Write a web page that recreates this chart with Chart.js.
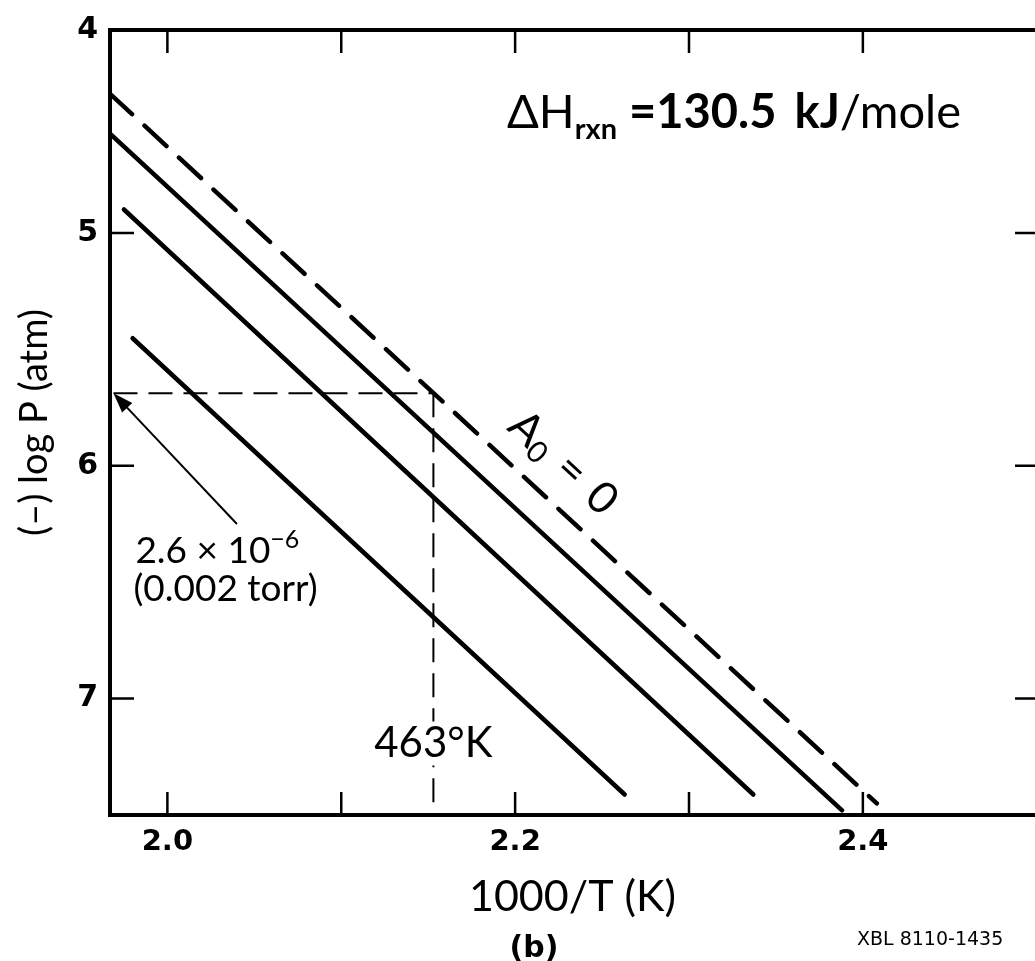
<!DOCTYPE html>
<html><head><meta charset="utf-8">
<script src="https://cdn.jsdelivr.net/npm/chart.js@4.4.1/dist/chart.umd.min.js"></script>
<style>html,body{margin:0;padding:0;background:#fff;}canvas{display:block;background:#fff;}</style>
</head><body>
<canvas id="c" width="1035" height="961"></canvas>
<script>
const FONT = 'Lato, "Noto Sans", sans-serif';
const WIDE = '"DejaVu Sans", Lato, sans-serif';

// axis ranges and ticks
const X_MIN = 1.967, X_MAX = 2.499;
const Y_MIN = 4.128, Y_MAX = 7.5;
const xTickValues = [2.0, 2.1, 2.2, 2.3, 2.4];
const xTickLabels = ['2.0', '', '2.2', '', '2.4'];
const yTickValues = [Y_MIN, 5, 6, 7];
const yTickLabels = ['4', '5', '6', '7'];

// the four straight lines (end points)
const lineNames = ['A0 = 0', 'line 2', 'line 3', 'line 4'];
const lineX1 = [1.967, 1.967, 1.975, 1.980];
const lineY1 = [4.402, 4.573, 4.899, 5.452];
const lineX2 = [2.408, 2.388, 2.337, 2.263];
const lineY2 = [7.450, 7.480, 7.412, 7.412];

// marker lines: 463 K and 2.6e-6 atm
const markX = 2.153;
const markY = 5.688;
const markXStart = 1.969;
const arrowFrom = [2.040, 6.250];
const arrowTo = [1.969, 5.688];

const datasets = lineNames.map((n, i) => ({
  label: n,
  data: [{x: lineX1[i], y: lineY1[i]}, {x: lineX2[i], y: lineY2[i]}],
  showLine: true, borderColor: '#000', borderWidth: 4.5,
  borderDash: i === 0 ? [30, 17] : [], borderCapStyle: 'round',
  pointRadius: 0, tension: 0
}));
datasets.push({
  label: 'P mark', data: [{x: markXStart, y: markY}, {x: markX, y: markY}],
  showLine: true, borderColor: '#000', borderWidth: 2, borderDash: [24, 11], pointRadius: 0
});
datasets.push({
  label: 'T mark', data: [{x: markX, y: markY}, {x: markX, y: Y_MAX}],
  showLine: true, borderColor: '#000', borderWidth: 2, borderDash: [24, 11], pointRadius: 0
});

function runs(ctx, x, y, parts) {
  let cx = x;
  parts.forEach(p => {
    ctx.font = p.font;
    ctx.fillText(p.text, cx, y + (p.dy || 0));
    cx += ctx.measureText(p.text).width + (p.gap || 0);
  });
  return cx;
}
function runsWidth(ctx, parts) {
  let w = 0;
  parts.forEach(p => { ctx.font = p.font; w += ctx.measureText(p.text).width + (p.gap || 0); });
  return w;
}

const inTicks = {
  id: 'inTicks',
  afterDraw(chart) {
    const {ctx, chartArea: a, scales: {x, y}} = chart;
    ctx.save();
    ctx.strokeStyle = '#000'; ctx.lineWidth = 2.5;
    ctx.beginPath();
    xTickValues.forEach(v => {
      const px = x.getPixelForValue(v);
      ctx.moveTo(px, a.bottom); ctx.lineTo(px, a.bottom - 23);
      ctx.moveTo(px, a.top); ctx.lineTo(px, a.top + 23);
    });
    yTickValues.slice(1).forEach(v => {
      const py = y.getPixelForValue(v);
      ctx.moveTo(a.left, py); ctx.lineTo(a.left + 24, py);
      ctx.moveTo(a.right, py); ctx.lineTo(a.right - 20, py);
    });
    ctx.stroke();
    ctx.restore();
  }
};

const notes = {
  id: 'notes',
  afterDraw(chart) {
    const {ctx, scales: {x, y}} = chart;
    ctx.save();
    ctx.fillStyle = '#000'; ctx.strokeStyle = '#000';
    ctx.textBaseline = 'alphabetic'; ctx.textAlign = 'left';

    // arrow
    const ax1 = x.getPixelForValue(arrowFrom[0]), ay1 = y.getPixelForValue(arrowFrom[1]);
    const ax2 = x.getPixelForValue(arrowTo[0]), ay2 = y.getPixelForValue(arrowTo[1]);
    const ang = Math.atan2(ay2 - ay1, ax2 - ax1);
    ctx.lineWidth = 2;
    ctx.beginPath(); ctx.moveTo(ax1, ay1);
    ctx.lineTo(ax2 - 14 * Math.cos(ang), ay2 - 14 * Math.sin(ang)); ctx.stroke();
    ctx.beginPath();
    ctx.moveTo(ax2, ay2);
    ctx.lineTo(ax2 - 20 * Math.cos(ang) + 7 * Math.sin(ang), ay2 - 20 * Math.sin(ang) - 7 * Math.cos(ang));
    ctx.lineTo(ax2 - 20 * Math.cos(ang) - 7 * Math.sin(ang), ay2 - 20 * Math.sin(ang) + 7 * Math.cos(ang));
    ctx.closePath(); ctx.fill();

    // Delta H label
    runs(ctx, 507, 128, [
      {text: 'ΔH', font: `400 47px ${FONT}`},
      {text: 'rxn', font: `700 29px ${FONT}`, dy: 11, gap: 12},
      {text: '=130.5', font: `700 47px ${FONT}`, gap: 18},
      {text: 'kJ', font: `700 47px ${FONT}`},
      {text: '/mole', font: `400 47px ${FONT}`}
    ]);

    // A0 = 0 along the dashed line
    const lx1 = x.getPixelForValue(lineX1[0]), ly1 = y.getPixelForValue(lineY1[0]);
    const lx2 = x.getPixelForValue(lineX2[0]), ly2 = y.getPixelForValue(lineY2[0]);
    const rot = Math.atan2(ly2 - ly1, lx2 - lx1);
    const aParts = [
      {text: 'A', font: `400 44px ${FONT}`},
      {text: '0', font: `400 30px ${FONT}`, dy: 6, gap: 16},
      {text: '=', font: `400 44px ${FONT}`, gap: 16},
      {text: '0', font: `400 44px ${FONT}`}
    ];
    ctx.save();
    ctx.translate(x.getPixelForValue(2.2276), y.getPixelForValue(5.988));
    ctx.rotate(rot);
    runs(ctx, -runsWidth(ctx, aParts) / 2, 14, aParts);
    ctx.restore();

    // 2.6 x 10^-6 (0.002 torr)
    const tx = x.getPixelForValue(1.9816);
    runs(ctx, tx, y.getPixelForValue(6.417), [
      {text: '2.6 × 10', font: `400 37px ${FONT}`},
      {text: '−6', font: `400 25px ${FONT}`, dy: -15}
    ]);
    ctx.font = `400 37px ${FONT}`;
    ctx.fillText('(0.002 torr)', tx - 2, y.getPixelForValue(6.58));

    // 463 K
    ctx.font = `400 42px ${FONT}`;
    const t463 = '463°K';
    const w463 = ctx.measureText(t463).width;
    const cx463 = x.getPixelForValue(markX), by463 = y.getPixelForValue(7.253);
    ctx.fillStyle = '#fff';
    ctx.fillRect(cx463 - 4, by463 - 36, 8, 44);
    ctx.fillStyle = '#000';
    ctx.fillText(t463, cx463 - w463 / 2, by463);

    // figure tags
    ctx.font = `700 30px ${WIDE}`;
    ctx.textAlign = 'center';
    ctx.fillText('(b)', 534, 957);
    ctx.textAlign = 'left';
    ctx.font = `400 19px ${WIDE}`;
    ctx.fillText('XBL 8110-1435', 857, 945);
    ctx.restore();
  }
};

new Chart(document.getElementById('c'), {
  type: 'scatter',
  data: {datasets},
  options: {
    responsive: false, animation: false, devicePixelRatio: 1,
    layout: {padding: 0},
    plugins: {legend: {display: false}, tooltip: {enabled: false}},
    scales: {
      x: {
        type: 'linear', position: 'bottom', min: X_MIN, max: X_MAX,
        afterBuildTicks: s => { s.ticks = xTickValues.map(v => ({value: v})); },
        afterFit: s => { s.height = 146; },
        grid: {display: false, drawTicks: false},
        border: {display: true, color: '#000', width: 4},
        ticks: {
          callback: (v, i) => xTickLabels[i], autoSkip: false, maxRotation: 0,
          font: {family: WIDE, size: 29, weight: 'bold'}, color: '#000', padding: 10
        },
        title: {display: true, text: '1000/T (K)', color: '#000',
          font: {family: FONT, size: 43}, padding: {top: 0, bottom: 38}}
      },
      x2: {
        type: 'linear', position: 'top', min: X_MIN, max: X_MAX,
        afterFit: s => { s.height = 28; },
        grid: {display: false, drawTicks: false},
        border: {display: true, color: '#000', width: 4},
        ticks: {display: false}
      },
      y: {
        type: 'linear', position: 'left', reverse: true, min: Y_MIN, max: Y_MAX,
        afterBuildTicks: s => { s.ticks = yTickValues.map(v => ({value: v})); },
        afterFit: s => { s.width = 110; },
        grid: {display: false, drawTicks: false},
        border: {display: true, color: '#000', width: 4},
        ticks: {
          callback: (v, i) => yTickLabels[i], autoSkip: false,
          font: {family: WIDE, size: 30, weight: 'bold'}, color: '#000', padding: 12
        },
        title: {display: true, text: '(–) log P (atm)', color: '#000',
          font: {family: FONT, size: 38}, padding: {top: 12, bottom: 0}}
      }
    }
  },
  plugins: [inTicks, notes]
});
</script>
</body></html>
